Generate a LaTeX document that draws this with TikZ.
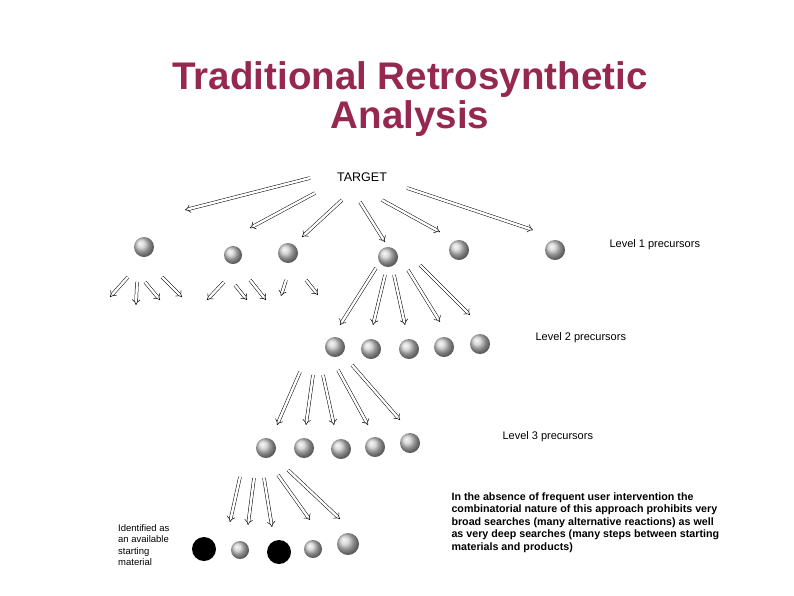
\documentclass[tikz,border=0pt]{standalone}
\usepackage{fontspec}
\setmainfont{Liberation Sans}
\usetikzlibrary{arrows.meta}
\definecolor{titlec}{RGB}{150,40,80}
\begin{document}
\begin{tikzpicture}[x=1pt,y=-1pt,
  ball/.style={circle,shading=ball,ball color=gray!40,minimum size=#1,inner sep=0pt},
  ball/.default=20pt,
  sm/.style={circle,fill=black,minimum size=24pt,inner sep=0pt},
  arr/.style={double,double distance=2.4pt,line width=0.5pt,-{Implies[length=6pt]}},
  lbl/.style={font=\fontsize{11}{13}\selectfont,anchor=west}]
\useasboundingbox (0,0) rectangle (794,595);
\node[font=\fontsize{38.5}{39}\selectfont\bfseries,text=titlec,align=center] (title) at (410,99) {Traditional Retrosynthetic\\Analysis};
\node[font=\fontsize{12.5}{14}\selectfont] (t) at (362,177) {TARGET};
% level 1
\node[ball] (a1) at (144,247) {};
\node[ball=18pt] (a2) at (233,255) {};
\node[ball] (a3) at (288,253) {};
\node[ball] (a4) at (388,257) {};
\node[ball] (a5) at (459,250) {};
\node[ball] (a6) at (555,250) {};
% level 2
\node[ball] (b1) at (335,347) {};
\node[ball] (b2) at (371,349) {};
\node[ball] (b3) at (409,349) {};
\node[ball] (b4) at (444,347) {};
\node[ball] (b5) at (480,344) {};
% level 3
\node[ball] (c1) at (266,448) {};
\node[ball] (c2) at (304,448) {};
\node[ball] (c3) at (341,449) {};
\node[ball] (c4) at (375,447) {};
\node[ball] (c5) at (410,443) {};
% level 4
\node[sm] (d1) at (204,549) {};
\node[ball=18pt] (d2) at (240,550) {};
\node[sm] (d3) at (279,552) {};
\node[ball=18pt] (d4) at (313,549) {};
\node[ball=22pt] (d5) at (348,544) {};
% labels
\node[lbl] (l1) at (606,245) {Level 1 precursors};
\node[lbl] (l2) at (532,338) {Level 2 precursors};
\node[lbl] (l3) at (499,437) {Level 3 precursors};
\node[font=\fontsize{10.7}{12.5}\selectfont\bfseries,align=left,anchor=north west] (p) at (448,489) {In the absence of frequent user intervention the\\combinatorial nature of this approach prohibits very\\broad searches (many alternative reactions) as well\\as very deep searches (many steps between starting\\materials and products)};
\node[font=\fontsize{9.5}{11.5}\selectfont,align=left,anchor=north west,inner sep=0pt] (q) at (118,524) {Identified as\\an available\\starting\\material};
% arrows from target
\coordinate (ts1) at (310,178); \coordinate (te1) at (185,210);
\coordinate (ts2) at (315,193); \coordinate (te2) at (250,228);
\coordinate (ts3) at (342,200); \coordinate (te3) at (302,237);
\coordinate (ts4) at (360,202); \coordinate (te4) at (385,242);
\coordinate (ts5) at (382,200); \coordinate (te5) at (440,232);
\coordinate (ts6) at (407,188); \coordinate (te6) at (533,230);
\foreach \i in {1,...,6} \draw[arr] (ts\i) -- (te\i);
% level1 children stubs
\foreach \s/\e in {{(128,277)}/{(110,297)},{(137,282)}/{(136,305)},{(145,282)}/{(160,300)},{(162,277)}/{(182,297)},
  {(224,282)}/{(207,300)},{(235,285)}/{(247,300)},{(250,280)}/{(266,300)},
  {(286,280)}/{(281,296)},{(306,280)}/{(318,295)}}
  \draw[arr] \s -- \e;
% level2 arrows
\foreach \s/\e in {{(376,268)}/{(340,325)},{(385,275)}/{(373,325)},{(394,275)}/{(405,325)},{(408,270)}/{(440,322)},{(420,265)}/{(470,315)}}
  \draw[arr] \s -- \e;
% level3 arrows
\foreach \s/\e in {{(300,372)}/{(277,425)},{(313,375)}/{(306,425)},{(323,375)}/{(334,425)},{(338,370)}/{(368,425)},{(352,365)}/{(400,420)}}
  \draw[arr] \s -- \e;
% level4 arrows
\foreach \s/\e in {{(240,477)}/{(230,522)},{(254,478)}/{(248,525)},{(264,478)}/{(272,527)},{(278,475)}/{(310,520)},{(288,470)}/{(340,519)}}
  \draw[arr] \s -- \e;
\end{tikzpicture}
\end{document}
